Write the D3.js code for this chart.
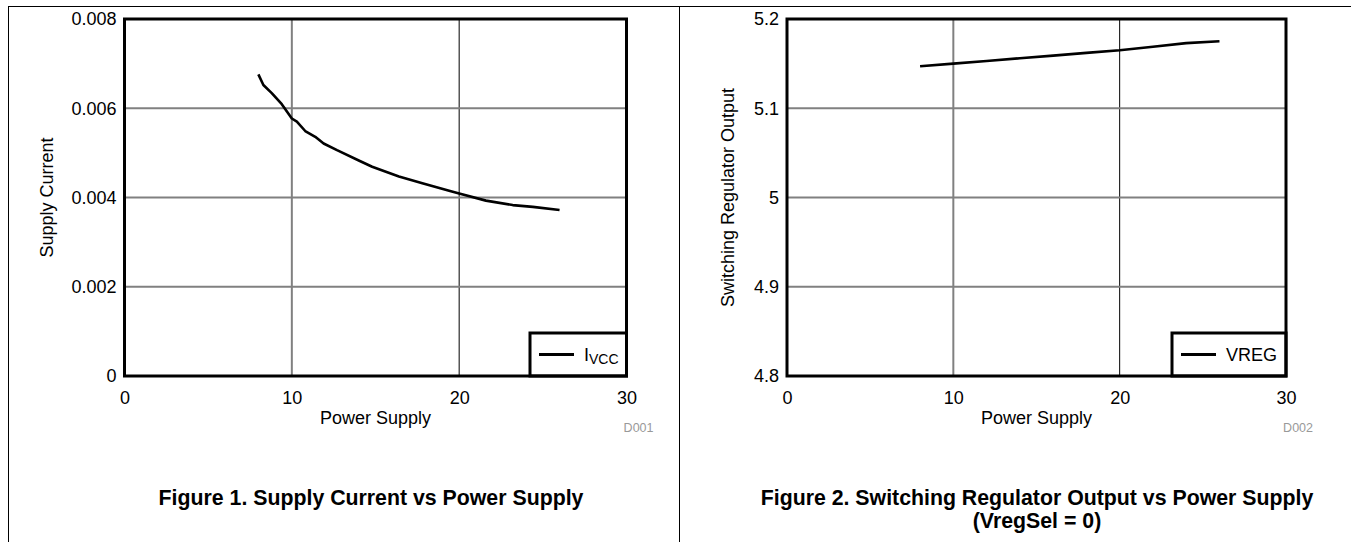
<!DOCTYPE html>
<html>
<head>
<meta charset="utf-8">
<script src="https://cdn.jsdelivr.net/npm/d3@7"></script>
<style>
  body { margin: 0; background: #fff; }
  svg { display: block; font-family: "Liberation Sans", Arial, sans-serif; }
</style>
</head>
<body>
<div id="canvas"></div>
<script>
// Figure 1 data: supply current vs power supply
const supplyV = [8.0, 8.3, 8.8, 9.4, 10.0, 10.3, 10.8, 11.4, 11.9, 12.7, 14.0, 14.8, 16.4, 17.8, 19.4, 20.0, 21.6, 23.2, 24.4, 26.0];
const icc = [0.00676, 0.00652, 0.00634, 0.00609, 0.00577, 0.00570, 0.00549, 0.00536, 0.00521, 0.00506, 0.00483, 0.00469, 0.00447, 0.00432, 0.00415, 0.00409, 0.00393, 0.00383, 0.00379, 0.00372];

// Figure 2 data: switching regulator output vs power supply
const vregV = [8, 10, 12, 14, 16, 18, 20, 22, 24, 26];
const vreg = [5.147, 5.150, 5.153, 5.156, 5.159, 5.162, 5.165, 5.169, 5.173, 5.175];

const xTicks = [0, 10, 20, 30];
const y1Ticks = [0, 0.002, 0.004, 0.006, 0.008];
const y1Labels = ["0", "0.002", "0.004", "0.006", "0.008"];
const y2Ticks = [4.8, 4.9, 5.0, 5.1, 5.2];
const y2Labels = ["4.8", "4.9", "5", "5.1", "5.2"];

const width = 1351;
const height = 542;

const svg = d3.select("#canvas").append("svg")
  .attr("width", width)
  .attr("height", height);

svg.append("rect").attr("width", width).attr("height", height).attr("fill", "#fff");

// page frame
svg.append("line").attr("x1", 8).attr("x2", width).attr("y1", 6.5).attr("y2", 6.5)
  .attr("stroke", "#000").attr("stroke-width", 1);
svg.append("line").attr("x1", 8.5).attr("x2", 8.5).attr("y1", 6).attr("y2", height)
  .attr("stroke", "#000").attr("stroke-width", 1);
svg.append("line").attr("x1", 679.5).attr("x2", 679.5).attr("y1", 6).attr("y2", height)
  .attr("stroke", "#000").attr("stroke-width", 1);

function panel(opt) {
  const x = d3.scaleLinear().domain([0, 30]).range([opt.left, opt.right]);
  const y = d3.scaleLinear().domain(opt.yDomain).range([376, 19]);
  const g = svg.append("g");

  // grid
  g.selectAll(".vgrid").data(xTicks.slice(1, -1)).enter().append("line")
    .attr("x1", d => x(d)).attr("x2", d => x(d))
    .attr("y1", y.range()[1]).attr("y2", y.range()[0])
    .attr("stroke", d => d === 10 ? "#808080" : "#000")
    .attr("stroke-width", d => d === 10 ? 2 : 1);
  g.selectAll(".hgrid").data(opt.yTicks.slice(1, -1)).enter().append("line")
    .attr("x1", opt.left).attr("x2", opt.right)
    .attr("y1", d => y(d)).attr("y2", d => y(d))
    .attr("stroke", "#808080").attr("stroke-width", 2);

  // curve
  const line = d3.line().x(d => x(d[0])).y(d => y(d[1]));
  g.append("path")
    .datum(d3.zip(opt.xs, opt.ys))
    .attr("d", line)
    .attr("fill", "none")
    .attr("stroke", "#000")
    .attr("stroke-width", 2.6)
    .attr("stroke-linejoin", "round");

  // legend
  const lg = g.append("g");
  lg.append("rect")
    .attr("x", opt.legendX).attr("y", 333)
    .attr("width", opt.right - opt.legendX).attr("height", 376 - 333)
    .attr("fill", "#fff").attr("stroke", "#000").attr("stroke-width", 3);
  lg.append("line")
    .attr("x1", opt.legendX + 9).attr("x2", opt.legendX + 44)
    .attr("y1", 354.5).attr("y2", 354.5)
    .attr("stroke", "#000").attr("stroke-width", 3);
  const lt = lg.append("text")
    .attr("x", opt.legendX + 54).attr("y", 361)
    .attr("font-size", 18).attr("fill", "#000");
  lt.append("tspan").text(opt.legendMain);
  if (opt.legendSub) {
    lt.append("tspan").attr("font-size", 14).attr("dy", 3).text(opt.legendSub);
  }

  // frame
  g.append("rect")
    .attr("x", opt.left).attr("y", 19)
    .attr("width", opt.right - opt.left).attr("height", 376 - 19)
    .attr("fill", "none").attr("stroke", "#000").attr("stroke-width", 3);

  // axes
  const yAxis = d3.axisLeft(y).tickValues(opt.yTicks)
    .tickFormat((d, i) => opt.yLabels[i]).tickSize(0).tickPadding(8);
  const ya = g.append("g").attr("transform", `translate(${opt.left},0)`).call(yAxis);
  const xAxis = d3.axisBottom(x).tickValues(xTicks).tickSize(0).tickPadding(15);
  const xa = g.append("g").attr("transform", `translate(0,376)`).call(xAxis);
  [ya, xa].forEach(a => {
    a.select(".domain").remove();
    a.selectAll("text").attr("font-size", 18).attr("font-family", "Liberation Sans, Arial, sans-serif").attr("fill", "#000");
  });

  // axis titles
  g.append("text")
    .attr("x", (opt.left + opt.right) / 2).attr("y", 424)
    .attr("text-anchor", "middle").attr("font-size", 18)
    .text("Power Supply");
  g.append("text")
    .attr("transform", `translate(${opt.left - opt.yTitleGap},197.5) rotate(-90)`)
    .attr("text-anchor", "middle").attr("font-size", 18)
    .text(opt.yTitle);

  g.append("text")
    .attr("x", opt.right + 27).attr("y", 432)
    .attr("text-anchor", "end").attr("font-size", 12.5).attr("fill", "#999")
    .text(opt.code);

  // figure caption
  opt.caption.forEach((c, i) => {
    g.append("text")
      .attr("x", opt.captionX).attr("y", 505 + i * 22.5)
      .attr("text-anchor", "middle").attr("font-size", 21.3).attr("font-weight", "bold")
      .text(c);
  });
}

panel({
  left: 124.5, right: 626.5, yDomain: [0, 0.008],
  yTicks: y1Ticks, yLabels: y1Labels,
  xs: supplyV, ys: icc,
  legendX: 530, legendMain: "I", legendSub: "VCC",
  yTitle: "Supply Current", yTitleGap: 72, code: "D001",
  caption: ["Figure 1. Supply Current vs Power Supply"], captionX: 371
});

panel({
  left: 787, right: 1286, yDomain: [4.8, 5.2],
  yTicks: y2Ticks, yLabels: y2Labels,
  xs: vregV, ys: vreg,
  legendX: 1172, legendMain: "VREG", legendSub: null,
  yTitle: "Switching Regulator Output", yTitleGap: 53, code: "D002",
  caption: ["Figure 2. Switching Regulator Output vs Power Supply", "(VregSel = 0)"], captionX: 1037
});
</script>
</body>
</html>
